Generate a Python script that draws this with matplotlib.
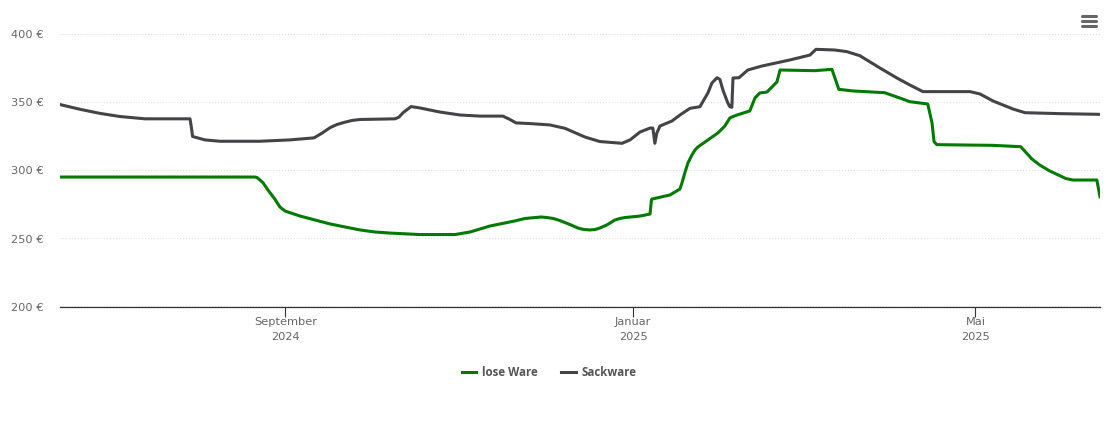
import matplotlib
matplotlib.use('Agg')
import matplotlib.pyplot as plt
import matplotlib.dates as mdates
import pandas as pd
from matplotlib.lines import Line2D

# days since start of the chart, price in euro
start_date = pd.Timestamp('2024-06-14')

sack_days = [0, 7, 14, 21, 29.8, 45.6, 46.1, 46.5, 50.8, 56.1, 70.1, 80.6, 89.1, 91.9, 94.7, 97.1, 99.9, 102.4, 105.2,
             117.5, 118.9, 120.3, 123.1, 126.2, 133.2, 140.3, 147.3, 155.3, 157.8, 159.9, 164.8, 171.8, 177.1,
             184.1, 189.3, 192.9, 197.1, 199.9, 203.4, 206.9, 207.9, 208.6, 209.3, 210.4, 214.6, 217.4, 220.9,
             224.4, 227.2, 228.6, 230.4, 231.4, 232.5, 234.2, 234.9, 235.6, 236, 238.1, 241.2, 246.1, 256, 263, 265.1, 271.7,
             275.9, 280.5, 287.5, 293.5, 298, 302.6, 319.1, 322.6, 327.2, 334.2, 338.4, 350.7, 364.7]
sack_price = [348.5, 345, 342, 339.7, 338, 338, 331.3, 325, 322.5, 321.5, 321.5, 322.5, 324, 327.5, 331.5, 333.8, 335.5, 336.8, 337.5,
              338, 339.3, 342.5, 347, 346, 343, 340.8, 340, 340, 337.5, 335, 334.5, 333.5, 331,
              324.6, 321.3, 320.7, 320, 322.5, 328.3, 331.2, 331.2, 320, 327.6, 332.7, 336.4, 340.8, 345.7,
              346.9, 357, 364.3, 368.2, 367, 359, 349.6, 346.9, 346.5, 368, 368.2, 373.9, 376.8, 381.3, 384.9, 389.1, 388.6,
              387.4, 384.4, 375.4, 368, 362.9, 358, 358, 356.3, 351.1, 345.2, 342.5, 341.8, 341.3]

lose_days = [0, 68.4, 69.1, 71.2, 72.9, 75.4, 77.1, 78.9, 84.2, 94.7, 99.9, 105.2, 110.4, 115.7, 126.2, 138.5, 143.8, 150.8, 159.5,
             163, 166.5, 168.8, 170.8, 173, 175.3, 178.8, 181.6, 183.7, 185.8, 187.6, 189.3, 191.7, 194.6, 196.3, 198.1, 203.4, 206.9, 207.4, 207.6, 213.9,
             217.4, 218.1, 219.1, 220.2, 221.6, 222.7, 223.7, 226.2, 230.7, 233.1, 234.9, 236, 237.4, 241.9, 243.7, 245.4, 247.9, 251.4, 252.5,
             264.7, 270.7, 273.1, 278, 289.2, 294.5, 298, 304.3, 305.8, 306.5, 307.5, 327.1, 336.9, 340.8,
             343.6, 347.1, 350.6, 352.7, 355.2, 363.6, 364.7]
lose_price = [295.2, 295.2, 294.8, 291, 285.7, 278.8, 273.2, 270.2, 266.5, 260.7, 258.5, 256.3, 254.8, 254, 252.9, 252.9, 254.8, 259.2, 262.9,
              264.7, 265.4, 265.8, 265.4, 264.7, 263.2, 260.3, 257.7, 256.6, 256.3, 256.6, 257.7, 259.9, 263.6, 264.7, 265.4, 266.5, 268, 278.3, 279, 282,
              286.4, 290.8, 298.2, 305.5, 311.4, 315.2, 317.3, 321, 327.6, 332.6, 338.6, 339.7, 340.8, 343.8, 353.3, 357, 357.7, 365.1, 373.9,
              373.4, 374.4, 359.7, 358.5, 357.2, 353.3, 350.6, 348.9, 334.9, 321.2, 319, 318.5, 317.5, 308.5,
              304, 299.6, 296.2, 294.1, 293, 293, 280.7]

month_ticks = ['2024-09-01', '2025-01-01', '2025-05-01']
month_labels = ['September\n2024', 'Januar\n2025', 'Mai\n2025']
price_ticks = [200, 250, 300, 350, 400]

W, H = 1110, 423
TEXT_GREY = '#666666'

plt.rcParams['font.family'] = 'DejaVu Sans'

fig = plt.figure(figsize=(W / 100, H / 100), dpi=100)
ax = fig.add_axes([60 / W, 1 - 306.5 / H, 1040 / W, 272 / H])

sack_x = start_date + pd.to_timedelta(sack_days, unit='D')
lose_x = start_date + pd.to_timedelta(lose_days, unit='D')
ax.plot(lose_x, lose_price, color='#007a00', lw=2.2, label='lose Ware', solid_joinstyle='round')
ax.plot(sack_x, sack_price, color='#434348', lw=2.2, label='Sackware', solid_joinstyle='round')

ax.set_xlim(start_date, start_date + pd.Timedelta(days=364.7))
ax.set_ylim(200, 400)

ax.set_yticks(price_ticks)
ax.set_yticklabels([f'{p} €' for p in price_ticks], fontsize=8.2, color=TEXT_GREY)
ax.tick_params(axis='y', length=0, pad=11.5)
ax.set_xticks([mdates.date2num(pd.Timestamp(d)) for d in month_ticks])
ax.set_xticklabels(month_labels, fontsize=8.2, color=TEXT_GREY, linespacing=1.55)
ax.tick_params(axis='x', length=7.2, width=0.8, color='#333333', pad=0.5)

ax.grid(axis='y', color='#d8d8d8', lw=0.7, linestyle=(0, (1, 2)))
ax.set_axisbelow(True)
for side in ['top', 'left', 'right']:
    ax.spines[side].set_visible(False)
ax.spines['bottom'].set_color('#333333')
ax.spines['bottom'].set_linewidth(0.9)

leg = ax.legend(loc='center', bbox_to_anchor=(549 / W, 1 - 372.5 / H), bbox_transform=fig.transFigure,
                ncol=2, frameon=False, handlelength=1.28, handletextpad=0.45, columnspacing=2.1,
                prop={'family': 'Open Sans', 'size': 8.3, 'weight': 'bold'})
for t in leg.get_texts():
    t.set_color('#555555')

# menu icon, top right
for y in [16, 21.3, 26.3]:
    fig.add_artist(Line2D([1082 / W, 1096 / W], [1 - y / H, 1 - y / H], color='#666666', lw=2.2,
                          solid_capstyle='round'))

fig.savefig('out.png', dpi=100)
